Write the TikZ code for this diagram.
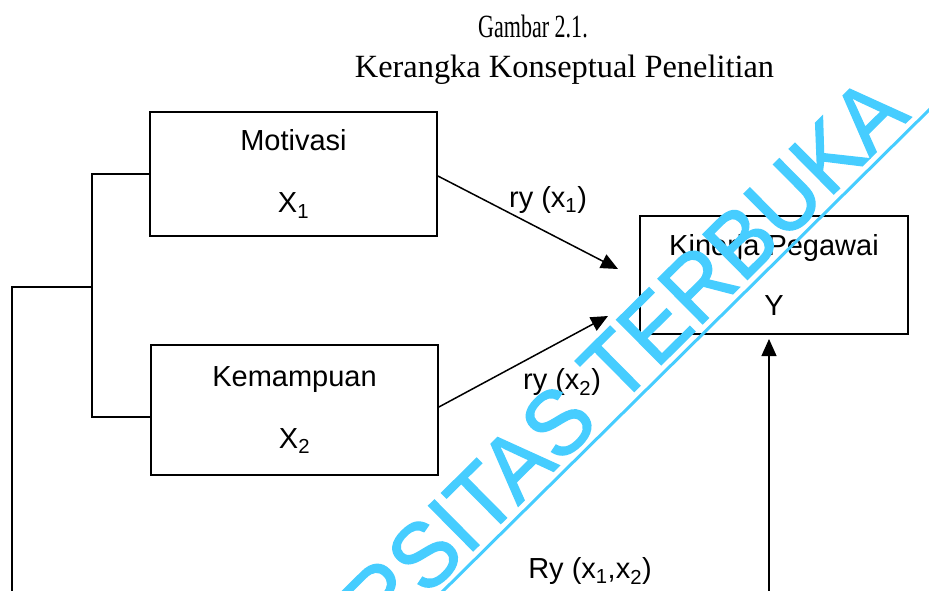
\documentclass[tikz,border=0pt]{standalone}
\usepackage{fontspec}
\usepackage{graphicx}
\setmainfont{Liberation Sans}
\newfontfamily\titlefont{Liberation Serif}
\newfontfamily\wmfont[FakeBold=1.5]{Liberation Sans}
\usetikzlibrary{arrows.meta,calc}
\definecolor{wmcol}{RGB}{70,205,255}
\begin{document}
\begin{tikzpicture}[x=1pt,y=-1pt,
  box/.style={draw, line width=1.8pt, align=center, inner sep=0pt,
    font=\fontsize{29}{62}\selectfont},
  lbl/.style={inner sep=0pt, font=\fontsize{29}{34}\selectfont},
  conn/.style={line width=1.5pt},
  arr/.style={conn, -{Triangle[length=17pt,width=15pt]}},
  ttl/.style={inner sep=0pt, anchor=base, font=\titlefont\fontsize{32.4}{38}\selectfont},
  wmtext/.style={text=wmcol, inner sep=0pt, anchor=base west, rotate=44.7,
    font=\wmfont\fontsize{92}{96}\selectfont},
  wmline/.style={draw=wmcol, line width=3pt}]
\fill[white] (0,0) rectangle (929,591);
\useasboundingbox (0,0) rectangle (929,591);
\clip (0,0) rectangle (929,591);

% titles
\node[ttl] (t1) at (533,38) {\scalebox{0.68}[1]{Gambar 2.1.}};
\node[ttl] (t2) at (564.5,78) {Kerangka Konseptual Penelitian};

% boxes
\node[box, minimum width=287pt, minimum height=124pt] (mot) at (293.5,174)
  {Motivasi\\X\textsubscript{1}};
\node[box, minimum width=287pt, minimum height=130pt] (kem) at (294.5,410)
  {Kemampuan\\X\textsubscript{2}};
\node[box, minimum width=268pt, minimum height=118pt,
  font=\fontsize{29}{60}\selectfont] (kin) at (774,275)
  {Kinerja Pegawai\\Y};

% bracket on the left
\coordinate (bj) at (92,287);
\coordinate (lt) at (12,287);
\coordinate (lb) at (12,600);
\draw[conn] (mot.west) -| (bj) |- ($(kem.west)+(0,7)$);
\draw[conn] (bj) -- (lt) -- (lb);

% arrows to Y
\coordinate (a1) at (618,269);
\coordinate (a2) at (608,316);
\coordinate (a3s) at (769,600);
\coordinate (a3) at (769,339);
\draw[arr] ($(mot.east)+(0,2)$) -- (a1);
\draw[arr] ($(kem.east)+(0,-3)$) -- (a2);
\draw[arr, line width=1.2pt] (a3s) -- (a3);

% labels
\node[lbl] (l1) at (548,200) {ry (x\textsubscript{1})};
\node[lbl] (l2) at (562,382) {ry (x\textsubscript{2})};
\node[lbl] (l3) at (590,571) {Ry (x\textsubscript{1},x\textsubscript{2})};

% watermark
\coordinate (wmA) at (400,633.6);
\coordinate (wmB) at (960,79.3);
\draw[wmline] (wmA) -- (wmB);
\node[wmtext] (wm) at (381,642) {\scalebox{0.95}[1]{RSITAS TERBUKA}};
\end{tikzpicture}
\end{document}
